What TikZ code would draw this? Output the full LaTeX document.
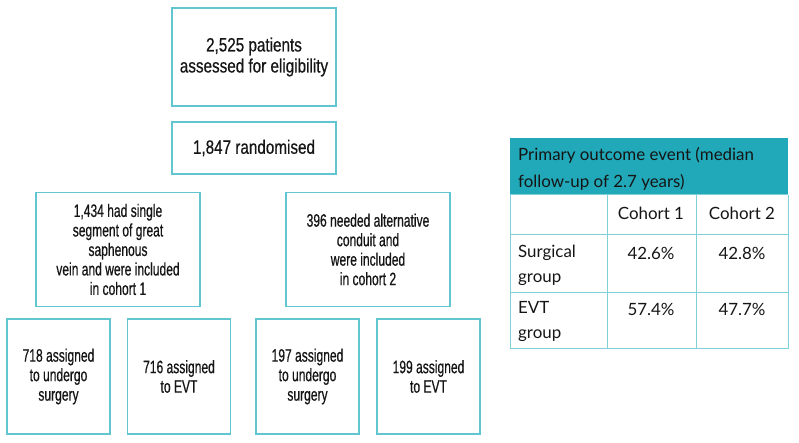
\documentclass[tikz,border=0pt]{standalone}
\usepackage{fontspec}
\setmainfont{Liberation Sans}
\newfontfamily\condfont[FakeStretch=0.67,FakeBold=0.6]{Liberation Sans}
\newfontfamily\condbig[FakeStretch=0.79,FakeBold=0.5]{Liberation Sans}
\newfontfamily\tabfont{Lato}
\definecolor{boxc}{HTML}{62C6D1}
\definecolor{hdr}{HTML}{22A9B9}
\definecolor{tline}{HTML}{7FD0D9}
\definecolor{txt}{HTML}{151515}
\begin{document}
\begin{tikzpicture}[x=1pt,y=-1pt,
  box/.style={draw=boxc, line width=1.5pt, align=center, inner sep=0pt,
    font=\condfont\fontsize{18}{19.5}\selectfont, text=txt},
  bigbox/.style={box, font=\condbig\fontsize{19.3}{21}\selectfont},
  cell/.style={inner sep=0pt, text=txt, font=\tabfont\fontsize{16.9}{25}\selectfont},
  tl/.style={draw=tline, line width=1pt}]
\useasboundingbox (0,0) rectangle (799,443);
% flow boxes
\node[bigbox, minimum width=164pt, minimum height=98pt] (a) at (254,57) {2,525 patients\\assessed for eligibility};
\node[bigbox, minimum width=164pt, minimum height=52pt] (b) at (254,148) {1,847 randomised};
\node[box, minimum width=164pt, minimum height=114pt] (c) at (118,249.5) {1,434 had single\\segment of great\\saphenous\\vein and were included\\in cohort 1};
\node[box, minimum width=164pt, minimum height=114pt] (d) at (368,249.5) {396 needed alternative\\conduit and\\were included\\in cohort 2};
\node[box, minimum width=103pt, minimum height=115pt] (e1) at (58.5,376.5) {718 assigned\\to undergo\\surgery};
\node[box, minimum width=103pt, minimum height=115pt] (e2) at (179,376.5) {716 assigned\\to EVT};
\node[box, minimum width=103pt, minimum height=115pt] (e3) at (307.5,376.5) {197 assigned\\to undergo\\surgery};
\node[box, minimum width=103pt, minimum height=115pt] (e4) at (428.5,376.5) {199 assigned\\to EVT};
% table
\fill[hdr] (510,138) rectangle (788,195);
\draw[tl] (510,195) -- (510,348) -- (788,348) -- (788,195);
\draw[tl] (510,195) -- (788,195);
\draw[tl] (510,235) -- (788,235);
\draw[tl] (510,292) -- (788,292);
\draw[tl] (607,195) -- (607,348);
\draw[tl] (696,195) -- (696,348);
\node[cell, anchor=west, align=left, font=\tabfont\fontsize{16.9}{26.5}\selectfont] (th) at (518,169) {Primary outcome event (median\\follow-up of 2.7 years)};
\node[cell] (c1) at (651,213) {Cohort 1};
\node[cell] (c2) at (742,213) {Cohort 2};
\node[cell, anchor=west, align=left] (r1) at (518,265.5) {Surgical\\group};
\node[cell] (v11) at (651,253) {42.6\%};
\node[cell] (v12) at (742,253) {42.8\%};
\node[cell, anchor=west, align=left] (r2) at (518,321.5) {EVT\\group};
\node[cell] (v21) at (651,309) {57.4\%};
\node[cell] (v22) at (742,309) {47.7\%};
\end{tikzpicture}
\end{document}
